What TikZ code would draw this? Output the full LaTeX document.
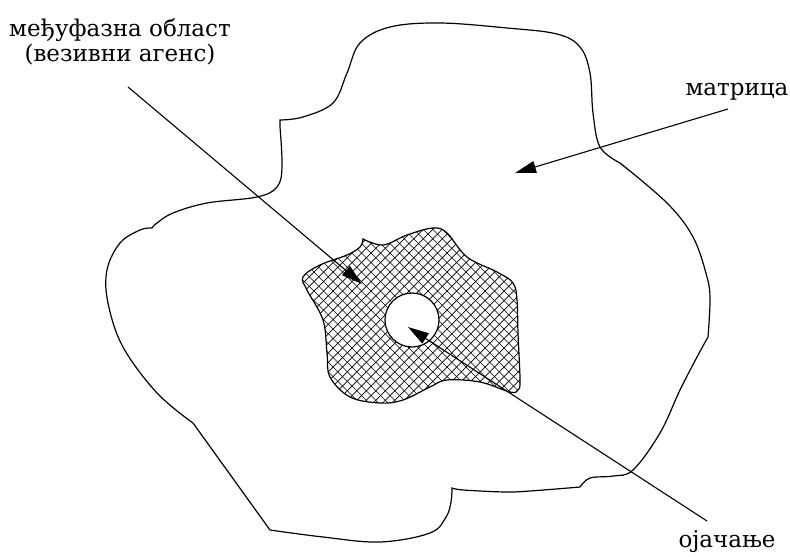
\documentclass[tikz,border=0pt]{standalone}
\usepackage{fontspec}
\setmainfont{DejaVu Serif}
\newfontfamily\tagfont{DejaVu Serif}
\usetikzlibrary{arrows.meta}
\tikzset{every picture/.style={line width=1pt}}
\tikzset{
  tag/.style={inner sep=0pt, font=\tagfont\fontsize{23}{25}\selectfont},
  leader/.style={line width=1.1pt, -{Triangle[length=21pt,width=12pt]}},
  hatch/.style={line width=0.7pt},
  rim/.style={line width=1.2pt},
}

\begin{document}
\begin{tikzpicture}[x=1pt,y=1pt,yscale=-1]
\useasboundingbox (0,0) rectangle (790,557);

%Shape: matrix (outer blob)
\draw [rim] plot[smooth,tension=0.6] coordinates {(280,120) (303,117) (333,103) (347,73) (360,43) (390,27) (440,23) (507,28) (557,34) (580,47) (590,73) (593,113) (600,147) (620,163)}
  -- plot[smooth,tension=0.6] coordinates {(620,163) (667,203) (693,237) (707,277) (710,300) (708,337)}
  -- plot[smooth,tension=0.6] coordinates {(708,337) (697,357) (680,390) (660,433) (633,470) (613,476) (590,478) (580,487)}
  -- plot[smooth,tension=0.4] coordinates {(580,487) (513,492) (463,490) (452,488)}
  -- plot[smooth,tension=0.6] coordinates {(452,488) (451,502) (446,517) (430,533) (380,542) (323,537) (270,530)}
  -- (193,423)
  -- plot[smooth,tension=0.6] coordinates {(193,423) (157,393) (123,347) (108,303) (107,270) (120,243) (140,230) (152,228)}
  -- plot[smooth,tension=0.6] coordinates {(152,228) (157,223) (173,213) (207,203) (257,197) (277,187) (282,167) (280,127)}
  -- cycle;

%Shape: interphase region, hatched
\begin{scope}
\clip plot[smooth,tension=0.6] coordinates {(363,239) (383,245) (407,235) (433,228) (447,233) (467,257) (497,272) (513,283) (517,300) (518,333) (520,380) (518,390) (510,392) (480,382) (447,380) (430,387) (403,400) (380,403) (350,397) (330,377) (327,353) (323,320) (307,290) (303,277) (320,265) (347,255) (360,247) (363,239)} -- cycle;
\foreach \xa in {100,109.5,...,560} {
  \draw [hatch] (\xa,210) -- ++(220,220);
  \draw [hatch] (\xa+200,210) -- ++(-220,220);
}
\end{scope}
\draw [rim] plot[smooth,tension=0.6] coordinates {(363,239) (383,245) (407,235) (433,228) (447,233) (467,257) (497,272) (513,283) (517,300) (518,333) (520,380) (518,390) (510,392) (480,382) (447,380) (430,387) (403,400) (380,403) (350,397) (330,377) (327,353) (323,320) (307,290) (303,277) (320,265) (347,255) (360,247) (363,239)} -- cycle;

%Shape: reinforcement
\node [circle, draw, rim, fill=white, minimum size=54pt, inner sep=0pt] (fiber) at (412,320) {};

% Text Node
\node [tag, align=center] (interphase) at (120,42) {међуфазна област\\(везивни агенс)};
% Text Node
\node [tag, anchor=base] (matrix) at (737,95) {матрица};
% Text Node
\node [tag, anchor=base] (reinf) at (727,547) {ојачање};

%Straight Lines
\coordinate (interphase end) at (128,87);
\coordinate (interphase tip) at (362,284);
\coordinate (matrix end) at (728,109);
\coordinate (matrix tip) at (515,173);
\coordinate (reinf end) at (707,521);
\coordinate (reinf tip) at (408,327);
\draw [leader] (interphase end) -- (interphase tip);
\draw [leader] (matrix end) -- (matrix tip);
\draw [leader] (reinf end) -- (reinf tip);

\end{tikzpicture}
\end{document}
